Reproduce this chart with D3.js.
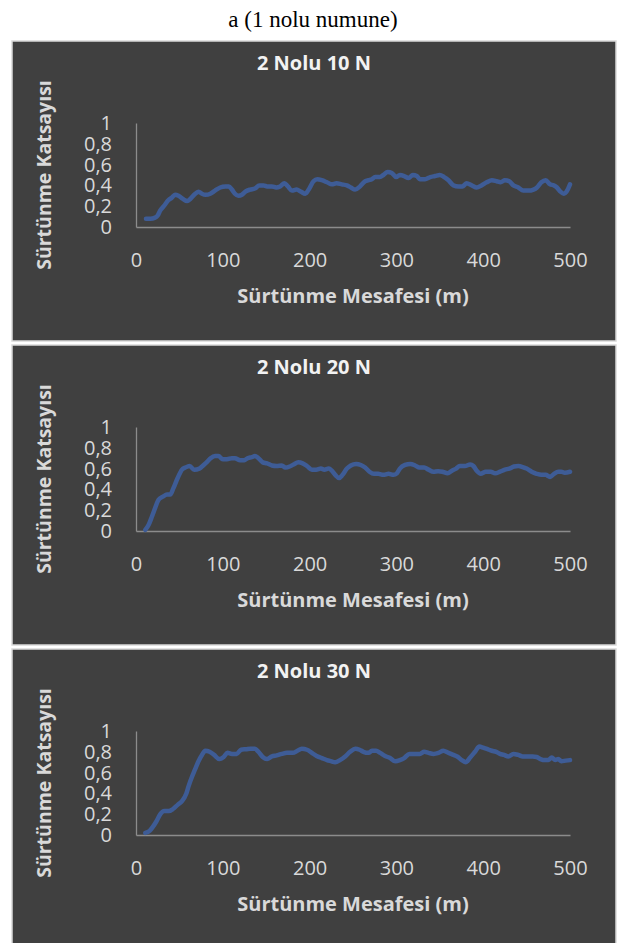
<!DOCTYPE html>
<html>
<head>
<meta charset="utf-8">
<script src="https://cdn.jsdelivr.net/npm/d3@7"></script>
<style>
  body { margin: 0; background: #fff; }
</style>
</head>
<body>
<svg id="svg" width="627" height="943"></svg>
<script>
// values (distance in m, friction coefficient)
const mesafe10 = [11.5, 16.5, 22, 25, 28, 32, 37.6, 41, 45, 49, 54, 59, 62.5, 67, 72, 76, 80, 85.6, 91, 97, 103, 107, 110.5, 114, 118, 122, 126, 131.6, 137, 142, 147, 151, 156.6, 161.5, 166, 171, 175, 179.6, 185, 190, 195, 199, 204.5, 209, 214, 220, 225.6, 231, 237, 243, 247.5, 252.5, 258, 264, 268, 271.7, 275.5, 281, 285, 290, 294.7, 299.7, 304, 309, 314, 319, 323.5, 327, 333, 339, 344.6, 350, 355, 360, 365.7, 371.5, 376, 381, 386.8, 392.5, 398, 404, 410, 415.6, 420, 425, 430, 434.8, 440.5, 446, 452, 458, 462, 467, 472, 477, 481.6, 485, 489, 493, 496, 500]
const katsayi10 = [0.08, 0.08, 0.09, 0.11, 0.16, 0.20, 0.26, 0.28, 0.31, 0.30, 0.27, 0.25, 0.27, 0.31, 0.34, 0.32, 0.31, 0.32, 0.35, 0.38, 0.39, 0.39, 0.36, 0.32, 0.30, 0.31, 0.34, 0.36, 0.37, 0.40, 0.40, 0.39, 0.39, 0.38, 0.39, 0.42, 0.39, 0.35, 0.36, 0.34, 0.32, 0.36, 0.44, 0.46, 0.45, 0.43, 0.41, 0.42, 0.41, 0.40, 0.38, 0.36, 0.39, 0.44, 0.45, 0.46, 0.48, 0.48, 0.50, 0.53, 0.52, 0.48, 0.50, 0.49, 0.47, 0.50, 0.49, 0.46, 0.46, 0.48, 0.49, 0.50, 0.48, 0.45, 0.40, 0.39, 0.39, 0.42, 0.40, 0.38, 0.40, 0.43, 0.45, 0.44, 0.43, 0.45, 0.44, 0.40, 0.38, 0.35, 0.35, 0.36, 0.38, 0.43, 0.45, 0.41, 0.40, 0.38, 0.34, 0.32, 0.34, 0.41]

const mesafe20 = [10.7, 14.6, 18.4, 22, 26, 31, 35.7, 39.5, 43, 48, 53, 56.8, 61.8, 67, 73, 78, 82.5, 86, 91, 95, 100, 104.8, 110.5, 114, 120, 124.7, 128.5, 133.5, 137, 141, 146, 151, 156.6, 162, 168, 172, 177, 181.5, 187, 192, 197, 202.6, 207.6, 213, 217, 222, 225.6, 229.5, 234, 238, 243, 247.5, 253.6, 259, 264, 269, 274, 279, 285, 291, 296.6, 300.5, 304, 310, 316, 321.6, 326.5, 332, 337, 342.7, 348, 353, 359, 364, 368.8, 373, 379, 385, 388.7, 392.5, 397, 403, 408.7, 413.7, 419.4, 425, 430, 435.5, 440.5, 445.5, 450, 455.8, 461.6, 467, 472, 477, 481.6, 486.5, 490, 494, 500]
const katsayi20 = [0.01, 0.06, 0.14, 0.22, 0.30, 0.33, 0.35, 0.35, 0.41, 0.51, 0.59, 0.61, 0.625, 0.59, 0.60, 0.635, 0.67, 0.70, 0.72, 0.72, 0.69, 0.69, 0.70, 0.70, 0.68, 0.68, 0.70, 0.71, 0.72, 0.70, 0.66, 0.65, 0.63, 0.625, 0.63, 0.61, 0.62, 0.64, 0.66, 0.65, 0.625, 0.59, 0.59, 0.60, 0.59, 0.60, 0.58, 0.54, 0.51, 0.54, 0.60, 0.63, 0.645, 0.635, 0.61, 0.57, 0.55, 0.55, 0.54, 0.55, 0.54, 0.555, 0.60, 0.635, 0.645, 0.63, 0.61, 0.61, 0.59, 0.57, 0.575, 0.57, 0.555, 0.58, 0.60, 0.625, 0.625, 0.64, 0.625, 0.58, 0.55, 0.57, 0.57, 0.555, 0.57, 0.59, 0.60, 0.62, 0.625, 0.615, 0.60, 0.57, 0.55, 0.54, 0.54, 0.52, 0.55, 0.57, 0.57, 0.56, 0.57]

const mesafe30 = [10.7, 15.7, 19.6, 23.4, 28, 32.6, 37.6, 42.6, 48, 53, 58, 60.6, 64.5, 68, 72, 76, 79.8, 84.8, 90, 96, 101, 105.5, 110.5, 116, 121, 127, 131.6, 137, 141, 146, 151, 156.6, 162, 168, 174, 180.7, 186, 191, 197, 202.6, 208, 214, 220, 224.5, 229.5, 235, 241, 246.7, 252.6, 257.6, 262, 268, 271.7, 276.6, 281.3, 287, 292.8, 298.5, 304, 309, 315, 321.6, 327, 332, 337, 342.7, 348.5, 354, 360, 365.7, 370, 375.3, 380, 385, 390.6, 395.6, 400, 405, 410, 415, 419.4, 424, 429, 434.8, 440.5, 445.5, 451, 457, 461.6, 466, 471, 475, 479, 483, 486.5, 490, 495, 500]
const katsayi30 = [0.02, 0.04, 0.08, 0.13, 0.20, 0.23, 0.23, 0.25, 0.29, 0.325, 0.40, 0.47, 0.56, 0.63, 0.71, 0.77, 0.81, 0.80, 0.77, 0.73, 0.75, 0.79, 0.78, 0.78, 0.82, 0.825, 0.83, 0.83, 0.80, 0.75, 0.73, 0.755, 0.765, 0.78, 0.79, 0.79, 0.81, 0.83, 0.82, 0.79, 0.76, 0.74, 0.72, 0.71, 0.70, 0.72, 0.755, 0.80, 0.83, 0.82, 0.80, 0.79, 0.81, 0.81, 0.79, 0.76, 0.74, 0.71, 0.72, 0.74, 0.78, 0.78, 0.78, 0.80, 0.79, 0.78, 0.79, 0.81, 0.79, 0.77, 0.755, 0.72, 0.70, 0.745, 0.80, 0.85, 0.84, 0.825, 0.81, 0.80, 0.78, 0.77, 0.755, 0.78, 0.77, 0.755, 0.755, 0.755, 0.75, 0.73, 0.72, 0.72, 0.745, 0.72, 0.73, 0.71, 0.715, 0.72]

const panelTitles = ['2 Nolu 10 N', '2 Nolu 20 N', '2 Nolu 30 N']
const xTicks = [0, 100, 200, 300, 400, 500]
const yTicks = [0, 0.2, 0.4, 0.6, 0.8, 1]

const panels = [
  { title: panelTitles[0], x: mesafe10, y: katsayi10 },
  { title: panelTitles[1], x: mesafe20, y: katsayi20 },
  { title: panelTitles[2], x: mesafe30, y: katsayi30 }
]

const trLocale = d3.formatLocale({ decimal: ',', thousands: '.', grouping: [3], currency: ['', ''] })
const yFormat = trLocale.format('~g')

const svg = d3.select('#svg')

svg.append('text')
  .text('a (1 nolu numune)')
  .attr('x', 313)
  .attr('y', 27)
  .attr('text-anchor', 'middle')
  .style('font-family', '"Liberation Serif", "Times New Roman", serif')
  .style('font-size', '23px')
  .attr('fill', '#000')

const panelLeft = 12
const panelW = 604
const panelH = 300
const panelTops = [41, 345, 649]

const xScale = d3.scaleLinear()
  .domain([0, 500])
  .range([136, 570])

panels.forEach((p, i) => {
  const top = panelTops[i]
  const g = svg.append('g')

  g.append('rect')
    .attr('x', panelLeft)
    .attr('y', top)
    .attr('width', panelW)
    .attr('height', panelH)
    .attr('fill', '#404040')
    .attr('stroke', '#d9d9d9')
    .attr('stroke-width', 1.5)

  const yScale = d3.scaleLinear()
    .domain([0, 1])
    .range([top + 186, top + 82])

  g.append('text')
    .text(p.title)
    .attr('x', 314)
    .attr('y', top + 29)
    .attr('text-anchor', 'middle')
    .style('font-family', '"Open Sans", sans-serif')
    .style('font-weight', 'bold')
    .style('font-size', '20px')
    .attr('fill', '#f2f2f2')

  const yAxis = g.append('g')
    .attr('transform', 'translate(136,0)')
    .call(d3.axisLeft(yScale).tickValues(yTicks).tickFormat(yFormat).tickSize(0).tickPadding(24))
  yAxis.select('.domain').attr('stroke', '#8c8c8c').attr('stroke-width', 1.3)

  const xAxis = g.append('g')
    .attr('transform', `translate(0,${top + 186})`)
    .call(d3.axisBottom(xScale).tickValues(xTicks).tickSize(0).tickPadding(26))
  xAxis.select('.domain').attr('stroke', '#8c8c8c').attr('stroke-width', 1.3)

  g.selectAll('.tick text')
    .attr('fill', '#d9d9d9')
    .style('font-family', '"Open Sans", sans-serif')
    .style('font-size', '20px')

  g.append('text')
    .text('Sürtünme Mesafesi (m)')
    .attr('x', 353)
    .attr('y', top + 262)
    .attr('text-anchor', 'middle')
    .style('font-family', '"Open Sans", sans-serif')
    .style('font-weight', 'bold')
    .style('font-size', '20px')
    .attr('fill', '#d9d9d9')

  g.append('text')
    .text('Sürtünme Katsayısı')
    .attr('transform', `translate(51,${top + 134}) rotate(-90)`)
    .attr('text-anchor', 'middle')
    .style('font-family', '"Open Sans", sans-serif')
    .style('font-weight', 'bold')
    .style('font-size', '19.5px')
    .attr('fill', '#d9d9d9')

  const line = d3.line()
    .x((d, j) => xScale(p.x[j]))
    .y(d => yScale(d))
    .curve(d3.curveMonotoneX)

  g.append('path')
    .datum(p.y)
    .attr('d', line)
    .attr('fill', 'none')
    .attr('stroke', '#3e5c96')
    .attr('stroke-width', 4.5)
    .attr('stroke-linejoin', 'round')
    .attr('stroke-linecap', 'round')
})
</script>
</body>
</html>
